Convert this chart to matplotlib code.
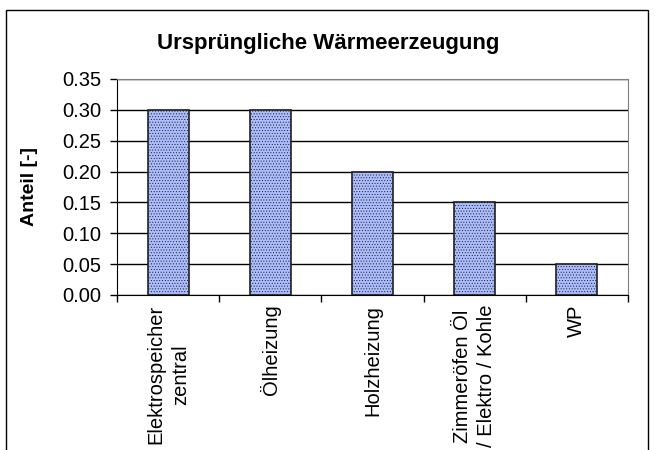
import matplotlib.pyplot as plt
from matplotlib.patches import Rectangle

# data
categories = ["Elektrospeicher\nzentral", "Ölheizung", "Holzheizung",
              "Zimmeröfen Öl\n/ Elektro / Kohle", "WP"]
shares = [0.30, 0.30, 0.20, 0.15, 0.05]
y_ticks = [0.00, 0.05, 0.10, 0.15, 0.20, 0.25, 0.30, 0.35]

plt.rcParams["font.family"] = ["Liberation Sans", "DejaVu Sans"]
plt.rcParams["hatch.color"] = "#98acf8"
plt.rcParams["hatch.linewidth"] = 0.4

W, H = 655, 450
fig = plt.figure(figsize=(W / 100, H / 100), dpi=100)
fig.patch.set_facecolor("white")

# outer chart frame (bottom edge runs off the image)
fig.patches.append(Rectangle((6 / W, -0.05), 642 / W, 1.05 - 10 / H,
                             transform=fig.transFigure, fill=False,
                             edgecolor="black", linewidth=1.0))

ax = fig.add_axes([117 / W, 1 - 295 / H, 511 / W, 216 / H])
x = list(range(len(categories)))
ax.bar(x, shares, width=0.4, facecolor="#abbdff", edgecolor="#202020",
       linewidth=1.2, hatch="......", zorder=3)

ax.set_xlim(-0.5, len(categories) - 0.5)
ax.set_ylim(0, 0.35)
ax.set_yticks(y_ticks)
ax.set_yticklabels([f"{v:.2f}" for v in y_ticks], fontsize=14.5)
ax.yaxis.grid(True, color="black", linewidth=1.0, zorder=0)
ax.set_axisbelow(True)

ax.set_xticks([i - 0.5 for i in range(len(categories) + 1)])
ax.set_xticklabels([])
ax.set_xticks(x, minor=True)
ax.set_xticklabels(categories, minor=True, rotation=90, fontsize=14.5,
                   ha="center", va="top", multialignment="center",
                   linespacing=1.35)
ax.tick_params(axis="x", which="minor", length=0, pad=7)
ax.tick_params(axis="x", which="major", length=5, direction="out", width=1)
ax.tick_params(axis="y", length=5, direction="out", width=1, pad=6)

for side in ["top", "right"]:
    ax.spines[side].set_color("#808080")
for side in ["left", "bottom"]:
    ax.spines[side].set_color("black")

ax.set_ylabel("Anteil [-]", fontsize=14, fontweight="bold", labelpad=18)
fig.text(328 / W, 1 - 43 / H, "Ursprüngliche Wärmeerzeugung",
         ha="center", va="center", fontsize=16, fontweight="bold")

fig.savefig("out.png", dpi=100)
